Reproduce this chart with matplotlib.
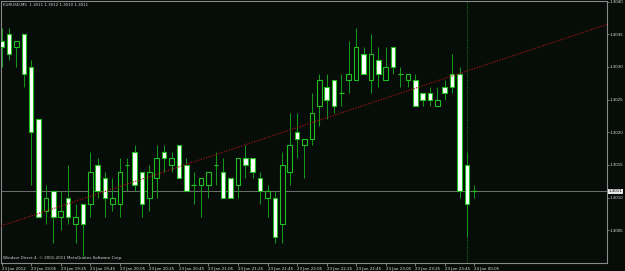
import matplotlib
matplotlib.use("Agg")
import matplotlib.pyplot as plt
import matplotlib.transforms as mtransforms
from matplotlib import font_manager

# ---- data (EURUSD M5, 23 Jan 2012 18:45 -> 24 Jan 00:05) ----
opens = [1.3034, 1.3035, 1.3033, 1.3035, 1.3030, 1.3022, 1.3008, 1.3011, 1.3007, 1.3010,
         1.3006, 1.3009, 1.3009, 1.3015, 1.3013, 1.3009, 1.3009, 1.3015, 1.3017, 1.3014,
         1.3010, 1.3013, 1.3017, 1.3015, 1.3018, 1.3015, 1.3012, 1.3012, 1.3012, 1.3015,
         1.3014, 1.3013, 1.3012, 1.3016, 1.3016, 1.3013, 1.3010, 1.3010, 1.3006, 1.3014,
         1.3020, 1.3018, 1.3019, 1.3024, 1.3027, 1.3028, 1.3026, 1.3028, 1.3028, 1.3032,
         1.3028, 1.3031, 1.3028, 1.3033, 1.3029, 1.3028, 1.3028, 1.3026, 1.3026, 1.3024,
         1.3027, 1.3029, 1.3029, 1.3015, 1.3011]
highs = [1.3036, 1.3036, 1.3034, 1.3035, 1.3031, 1.3022, 1.3012, 1.3011, 1.3011, 1.3015,
         1.3009, 1.3009, 1.3017, 1.3016, 1.3014, 1.3013, 1.3016, 1.3016, 1.3018, 1.3014,
         1.3015, 1.3018, 1.3018, 1.3017, 1.3018, 1.3016, 1.3014, 1.3013, 1.3014, 1.3017,
         1.3016, 1.3013, 1.3016, 1.3018, 1.3016, 1.3014, 1.3012, 1.3011, 1.3017, 1.3023,
         1.3023, 1.3019, 1.3026, 1.3029, 1.3029, 1.3028, 1.3029, 1.3034, 1.3036, 1.3033,
         1.3035, 1.3033, 1.3033, 1.3033, 1.3030, 1.3029, 1.3029, 1.3026, 1.3027, 1.3027,
         1.3028, 1.3032, 1.3030, 1.3017, 1.3012]
lows = [1.3030, 1.3031, 1.3030, 1.3027, 1.3012, 1.3007, 1.3006, 1.3003, 1.3005, 1.3006,
        1.3003, 1.3001, 1.3007, 1.3010, 1.3007, 1.3008, 1.3007, 1.3011, 1.3011, 1.3007,
        1.3008, 1.3010, 1.3014, 1.3014, 1.3013, 1.3011, 1.3009, 1.3007, 1.3010, 1.3012,
        1.3010, 1.3010, 1.3010, 1.3013, 1.3013, 1.3009, 1.3007, 1.3003, 1.3003, 1.3012,
        1.3016, 1.3013, 1.3018, 1.3021, 1.3022, 1.3023, 1.3024, 1.3026, 1.3028, 1.3029,
        1.3026, 1.3027, 1.3028, 1.3029, 1.3027, 1.3027, 1.3024, 1.3024, 1.3024, 1.3024,
        1.3025, 1.3026, 1.3010, 1.3004, 1.3010]
closes = [1.3033, 1.3032, 1.3034, 1.3029, 1.3020, 1.3007, 1.3010, 1.3007, 1.3008, 1.3007,
          1.3007, 1.3006, 1.3014, 1.3011, 1.3010, 1.3010, 1.3014, 1.3015, 1.3012, 1.3009,
          1.3014, 1.3016, 1.3016, 1.3016, 1.3013, 1.3011, 1.3012, 1.3013, 1.3014, 1.3015,
          1.3010, 1.3010, 1.3016, 1.3015, 1.3014, 1.3011, 1.3011, 1.3004, 1.3015, 1.3018,
          1.3019, 1.3019, 1.3023, 1.3028, 1.3025, 1.3024, 1.3026, 1.3029, 1.3033, 1.3029,
          1.3032, 1.3029, 1.3030, 1.3030, 1.3029, 1.3029, 1.3024, 1.3025, 1.3025, 1.3025,
          1.3026, 1.3027, 1.3011, 1.3009, 1.3011]

time_tick_bars = [0, 4, 8, 12, 16, 20, 24, 28, 32, 36, 40, 44, 48, 52, 56, 60, 64]
time_tick_labels = ["23 Jan 2012", "23 Jan 19:05", "23 Jan 19:25", "23 Jan 19:45",
                    "23 Jan 20:05", "23 Jan 20:25", "23 Jan 20:45", "23 Jan 21:05",
                    "23 Jan 21:25", "23 Jan 21:45", "23 Jan 22:05", "23 Jan 22:25",
                    "23 Jan 22:45", "23 Jan 23:05", "23 Jan 23:25", "23 Jan 23:45",
                    "24 Jan 00:05"]
price_ticks = [1.3005, 1.3010, 1.3015, 1.3020, 1.3025, 1.3030, 1.3035, 1.3040]
price_tick_labels = ["1.3005", "1.3010", "1.3015", "1.3020", "1.3025", "1.3030", "1.3035", "1.3040"]

bid_price = 1.3011
bid_label = "1.3011"
trend_p1 = (0, 1.30057)
trend_p2 = (62, 1.30290)
day_separator_bar = 63
title_text = "EURUSD,M5  1.3011 1.3012 1.3010 1.3011"
footer_text = "Windsor Direct 4, \u00a9 2001-2011 MetaQuotes Software Corp."

# ---- style ----
BG = "#060c08"
GREEN = "#1fbf1f"
WICK = "#14961a"
available = {f.name for f in font_manager.fontManager.ttflist}
FONT = [f for f in ["Liberation Sans Narrow", "DejaVu Sans Condensed"] if f in available] + ["DejaVu Sans"]
narrow = FONT[0] != "DejaVu Sans"
FS = 3.7 if narrow else 2.9

plt.rcParams["font.family"] = FONT

fig = plt.figure(figsize=(6.25, 2.71), dpi=100)
fig.patch.set_facecolor(BG)
ax = fig.add_axes([1 / 625, 8 / 271, 606 / 625, 262 / 271])
ax.set_facecolor(BG)

n = len(opens)
idx = list(range(n))
body_w = 0.62

# wicks
ax.vlines(idx, lows, highs, colors=WICK, linewidth=0.75, zorder=2)

# bodies
for i in idx:
    o, c = opens[i], closes[i]
    if abs(c - o) < 1e-9:
        ax.hlines(o, i - body_w / 2, i + body_w / 2, colors=GREEN, linewidth=0.9, zorder=3)
    else:
        fc = "white" if c < o else BG
        ax.bar(i, abs(c - o), bottom=min(o, c), width=body_w, facecolor=fc,
               edgecolor=GREEN, linewidth=0.8, zorder=3)

# trend line
ax.axline(trend_p1, trend_p2, color="#a01414", linestyle=(0, (1.2, 1.2)), linewidth=0.8, zorder=4)

# day separator
ax.axvline(day_separator_bar, color="#0d6b12", linestyle=(0, (1, 1)), linewidth=0.8, zorder=1)

# bid line
ax.axhline(bid_price, color="#707070", linewidth=0.7, zorder=1.5)

ax.set_xlim(-0.09, 81.97)
ax.set_ylim(1.30000, 1.30401)

for s in ax.spines.values():
    s.set_color("#8a8a8a")
    s.set_linewidth(0.8)

ax.yaxis.tick_right()
ax.set_yticks(price_ticks)
ax.set_yticklabels(price_tick_labels)
ax.tick_params(axis="y", colors="#8a8a8a", labelcolor="#e0e0e0", labelsize=FS,
               length=1.5, width=0.6, pad=0.6)

ax.set_xticks(time_tick_bars)
ax.set_xticklabels(time_tick_labels)
ax.tick_params(axis="x", colors="#8a8a8a", labelcolor="#e0e0e0", labelsize=FS,
               length=2, width=0.6, pad=0.6)
for lbl in ax.get_xticklabels():
    lbl.set_horizontalalignment("left")

# bid price label box
trans = mtransforms.blended_transform_factory(ax.transAxes, ax.transData)
ax.text(1.003, bid_price, bid_label, transform=trans, ha="left", va="center",
        fontsize=FS, color="black", zorder=6, clip_on=False,
        bbox=dict(boxstyle="square,pad=0.12", facecolor="#e8e8e8", edgecolor="none"))

ax.text(0.004, 0.992, title_text, transform=ax.transAxes, ha="left", va="top",
        fontsize=FS, color="#d8d8d8", zorder=6)
ax.text(0.004, 0.012, footer_text, transform=ax.transAxes, ha="left", va="bottom",
        fontsize=FS, color="#d8d8d8", zorder=6)

fig.savefig("out.png", dpi=100, facecolor=BG)
